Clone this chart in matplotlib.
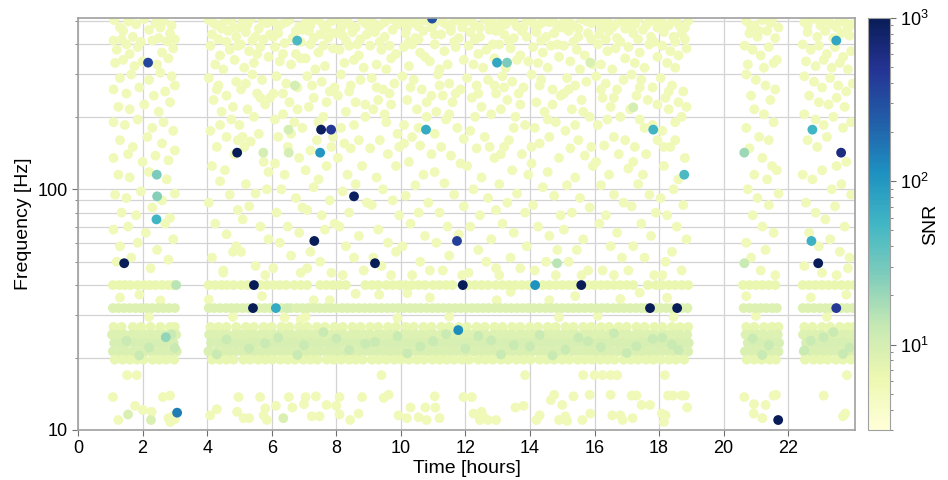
import numpy as np
import matplotlib
matplotlib.use("Agg")
import matplotlib.pyplot as plt
from matplotlib.colors import LogNorm
from matplotlib.ticker import LogLocator, NullFormatter, FixedLocator, FixedFormatter

plt.rcParams['font.family'] = ['Liberation Sans', 'DejaVu Sans']
plt.rcParams['mathtext.fontset'] = 'custom'
plt.rcParams['mathtext.rm'] = 'Liberation Sans'
plt.rcParams['mathtext.it'] = 'Liberation Sans:italic'

# loud triggers: time [h], frequency [Hz], SNR
loud_t = [2.17, 6.79, 4.93, 2.44, 2.45, 2.43, 1.43, 3.04, 2.72, 3.07, 5.45, 5.42, 6.13, 6.47,
          7.32, 7.53, 7.84, 7.50, 8.55, 10.78, 12.98, 13.29, 15.87, 11.74, 10.97, 9.20, 11.92,
          14.16, 15.59, 14.84, 11.78, 23.49, 17.20, 17.82, 18.78, 20.64, 22.75, 23.64, 22.72,
          22.93, 20.64, 17.72, 18.56, 23.49, 21.69, 6.52, 5.74, 6.53, 6.72, 1.55, 2.26, 6.36]
loud_f = [336, 415, 142, 115, 93.5, 75, 49.3, 40, 24.3, 11.8, 40, 32.1, 32.1, 32.1,
          61, 177, 177, 142, 93.5, 177, 336, 336, 336, 61, 512, 49.3, 40,
          40, 40, 49.3, 26, 415, 219, 177, 115, 142, 177, 142, 61,
          49.3, 49.3, 32.1, 32.1, 32.1, 11.0, 177, 142, 142, 270, 11.6, 11.0, 11.2]
loud_snr = [350, 50, 1000, 28, 25, 55, 1000, 15, 22, 150, 1000, 1000, 70, 10,
            1000, 900, 450, 100, 900, 70, 75, 28, 9, 400, 300, 1000, 1000,
            110, 1000, 15, 120, 75, 10, 55, 50, 20, 55, 600, 60,
            1000, 12, 1000, 1000, 450, 1000, 10, 10, 10, 10, 9, 9, 9]

# quiet triggers above 40 Hz, (time, freq) pairs
upper_a = [1.12,505, 1.3,470, 1.55,498, 1.8,485, 2.05,510, 2.4,490, 2.65,500, 2.9,480,
           1.1,415, 1.35,420, 1.5,400, 1.7,430, 1.95,410, 2.3,415, 2.5,425, 2.75,412, 3.0,420,
           1.2,380, 1.6,365, 1.85,390, 2.6,370, 2.95,385, 1.15,335, 1.4,345, 1.75,325, 2.0,340,
           2.45,330, 2.8,350, 1.3,290, 1.65,300, 2.2,285, 2.55,305, 2.9,295, 1.1,260, 1.5,250,
           1.9,265, 2.35,245, 2.7,255, 3.0,270, 1.25,220, 1.6,215, 2.05,225, 2.5,210, 2.85,230,
           1.1,190, 1.45,185, 1.85,195, 2.3,180, 2.65,190, 2.95,175, 1.3,160, 1.7,150, 2.15,165,
           2.6,155, 3.0,145, 1.1,135, 1.55,140, 2.0,130, 2.4,138, 2.8,132, 1.25,115, 1.6,112,
           2.2,118, 2.75,110, 1.15,95, 1.5,92, 1.95,98, 2.6,90, 3.0,96, 1.35,80, 1.8,78, 2.3,84,
           2.85,76, 1.1,68, 1.55,70, 2.1,66, 2.7,72, 1.3,58, 1.85,60, 2.45,56, 2.95,62,
           1.2,50, 1.65,52, 2.25,47, 2.8,51, 1.4,455, 2.2,460, 2.85,445, 1.6,505, 2.55,470]
upper_b = [4.05,505, 4.3,480, 4.55,500, 4.8,470, 4.15,440, 4.65,455, 4.9,430, 4.1,395, 4.4,360,
           4.7,380, 4.25,330, 4.85,345, 4.5,315, 4.05,290, 4.35,270, 4.6,245, 4.9,280, 4.2,235,
           4.45,210, 4.75,195, 4.1,175, 4.6,165, 4.3,150, 4.85,140, 4.15,125, 4.55,120, 4.4,108,
           4.7,95, 4.05,88, 4.95,82, 4.25,72, 4.6,65, 4.9,58, 4.15,52, 4.5,46, 4.8,55,
           5.1,495, 5.35,510, 5.6,465, 5.85,490, 5.2,450, 5.5,430, 5.75,420, 5.05,400, 5.3,375,
           5.65,390, 5.9,355, 5.45,335, 5.15,320, 5.4,300, 5.7,285, 5.05,260, 5.55,250, 5.95,240,
           5.25,215, 5.8,225, 5.0,185, 5.6,170, 5.35,158, 5.75,130, 5.15,150, 5.9,118, 5.2,105,
           5.5,96, 5.85,100, 5.3,85, 5.1,75, 5.65,70, 5.9,62, 5.05,55, 5.5,48, 5.8,44,
           6.05,500, 6.3,485, 6.55,505, 6.85,475, 6.2,445, 6.65,425, 6.95,460, 6.1,390, 6.4,405,
           6.75,365, 6.25,340, 6.6,330, 6.9,350, 6.15,295, 6.45,275, 6.8,265, 6.05,250, 6.55,230,
           6.35,205, 6.7,190, 6.95,180, 6.2,165, 6.5,150, 6.85,135, 6.1,128, 6.4,115, 6.3,100,
           6.75,92, 6.95,84, 6.15,80, 6.5,70, 6.85,66, 6.25,60, 6.6,53, 6.05,47, 6.9,45,
           7.05,490, 7.3,510, 7.6,480, 7.85,500, 7.15,455, 7.5,440, 7.75,425, 7.2,400, 7.45,370,
           7.9,385, 7.05,350, 7.65,325, 7.35,315, 7.1,295, 7.55,280, 7.8,255, 7.3,240, 7.95,265,
           7.15,220, 7.6,200, 7.4,160, 7.9,165, 7.2,145, 7.7,125, 7.05,120, 7.45,110, 7.3,102,
           7.8,90, 7.1,82, 7.55,78, 7.65,68, 7.95,72, 7.2,55, 7.5,50, 7.85,45, 7.1,47,
           8.05,505, 8.35,495, 8.6,470, 8.9,490, 8.2,435, 8.5,450, 8.75,420, 8.1,380, 8.4,395,
           8.7,360, 8.25,335, 8.85,320, 8.55,345, 8.15,300, 8.45,270, 8.75,285, 8.05,245, 8.6,230,
           8.3,210, 8.9,200, 8.15,180, 8.7,160, 8.45,148, 8.05,135, 8.8,125, 8.35,115, 8.6,105,
           8.2,98, 8.95,88, 8.4,80, 8.1,70, 8.7,64, 8.3,58, 8.55,52, 8.85,46, 8.2,44,
           9.1,500, 9.35,480, 9.6,510, 9.9,485, 9.2,450, 9.5,430, 9.75,460, 9.05,395, 9.4,380,
           9.7,350, 9.25,330, 9.85,365, 9.55,315, 9.1,290, 9.45,260, 9.8,275, 9.3,235, 9.65,250,
           9.15,215, 9.55,190, 9.9,170, 9.35,160, 9.05,148, 9.6,140, 9.85,125, 9.25,112, 9.45,100,
           9.75,90, 9.1,86, 9.95,78, 9.3,68, 9.6,60, 9.85,55, 9.4,48, 9.7,44, 9.15,52,
           10.05,495, 10.3,510, 10.55,475, 10.85,500, 10.15,445, 10.45,425, 10.7,455, 10.1,390,
           10.35,400, 10.6,370, 10.9,340, 10.25,325, 10.75,355, 10.05,295, 10.4,285, 10.65,260,
           10.95,245, 10.2,235, 10.5,215, 10.8,200, 10.1,185, 10.35,165, 10.6,152, 10.95,140,
           10.25,130, 10.7,115, 10.45,104, 10.15,94, 10.85,88, 10.55,80, 10.3,72, 10.75,64,
           10.05,58, 10.6,50, 10.9,46, 10.35,44]
upper_c = [11.1,505, 11.4,485, 11.65,500, 11.9,470, 11.25,440, 11.55,455, 11.8,425, 11.05,400,
           11.35,375, 11.7,390, 11.95,345, 11.45,330, 11.2,315, 11.15,300, 11.5,275, 11.85,260,
           11.3,245, 11.6,230, 11.1,210, 11.4,195, 11.75,180, 11.95,162, 11.25,150, 11.55,138,
           11.85,128, 11.05,118, 11.35,106, 11.65,95, 11.95,85, 11.2,80, 11.45,70, 11.8,65,
           11.1,60, 11.5,53, 11.3,46, 11.9,44,
           12.05,500, 12.3,480, 12.6,510, 12.85,490, 12.15,450, 12.45,430, 12.75,460, 12.1,395,
           12.4,365, 12.65,380, 12.9,350, 12.25,330, 12.55,320, 12.05,290, 12.35,270, 12.7,285,
           12.95,250, 12.2,240, 12.5,220, 12.8,205, 12.15,175, 12.6,165, 12.35,148, 12.9,135,
           12.05,125, 12.5,112, 12.25,100, 12.7,92, 12.95,82, 12.45,78, 12.15,70, 12.8,62,
           12.4,56, 12.65,50, 12.1,45, 12.95,47,
           13.1,495, 13.35,505, 13.6,475, 13.9,500, 13.2,440, 13.5,425, 13.75,455, 13.05,400,
           13.4,385, 13.7,360, 13.95,340, 13.25,320, 13.6,345, 13.15,295, 13.45,280, 13.8,265,
           13.3,235, 13.65,250, 13.1,215, 13.55,200, 13.85,185, 13.35,160, 13.2,150, 13.75,140,
           13.45,120, 13.95,115, 13.05,105, 13.6,96, 13.3,88, 13.85,80, 13.15,72, 13.5,66,
           13.9,58, 13.4,52, 13.7,47, 13.05,44,
           14.05,505, 14.3,485, 14.6,495, 14.85,470, 14.2,450, 14.5,430, 14.75,445, 14.1,390,
           14.4,370, 14.65,395, 14.9,355, 14.25,335, 14.55,320, 14.05,300, 14.35,285, 14.7,260,
           14.95,245, 14.2,230, 14.45,210, 14.8,190, 14.15,180, 14.6,165, 14.3,155, 14.9,135,
           14.05,128, 14.55,118, 14.4,102, 14.75,94, 14.1,86, 14.95,78, 14.25,70, 14.6,64,
           14.85,56, 14.5,50, 14.15,46, 14.8,44,
           15.1,500, 15.35,480, 15.6,510, 15.9,490, 15.2,455, 15.5,430, 15.8,445, 15.05,395,
           15.45,380, 15.7,360, 15.25,340, 15.95,330, 15.55,315, 15.15,290, 15.4,270, 15.75,280,
           15.05,250, 15.6,235, 15.3,215, 15.85,200, 15.1,175, 15.5,160, 15.25,148, 15.7,138,
           15.95,125, 15.4,112, 15.15,104, 15.55,92, 15.85,84, 15.3,80, 15.05,68, 15.65,62,
           15.45,56, 15.2,50, 15.8,46, 15.6,44,
           16.05,505, 16.3,490, 16.55,470, 16.85,500, 16.15,440, 16.45,455, 16.7,425, 16.1,400,
           16.4,375, 16.65,385, 16.95,350, 16.2,330, 16.55,315, 16.05,295, 16.35,275, 16.7,260,
           16.9,285, 16.25,240, 16.5,220, 16.8,200, 16.1,185, 16.6,165, 16.3,152, 16.75,140,
           16.05,130, 16.45,115, 16.2,104, 16.6,95, 16.9,88, 16.35,78, 16.15,72, 16.7,66,
           16.5,58, 16.85,52, 16.25,46, 16.6,44,
           17.1,495, 17.35,510, 17.6,480, 17.85,500, 17.2,445, 17.5,460, 17.75,430, 17.05,390,
           17.4,370, 17.7,400, 17.95,355, 17.25,335, 17.55,320, 17.15,300, 17.45,285, 17.8,265,
           17.3,245, 17.65,235, 17.1,215, 17.4,195, 17.8,185, 17.95,160, 17.25,150, 17.6,140,
           17.05,122, 17.5,115, 17.35,105, 17.7,95, 17.15,85, 17.9,80, 17.45,72, 17.75,64,
           17.2,58, 17.55,52, 17.05,46, 17.85,44,
           18.05,505, 18.3,480, 18.55,495, 18.8,470, 18.15,450, 18.45,430, 18.7,445, 18.1,395,
           18.35,375, 18.6,360, 18.85,385, 18.25,335, 18.5,320, 18.05,290, 18.4,270, 18.75,255,
           18.2,240, 18.6,230, 18.3,215, 18.7,200, 18.1,175, 18.5,160, 18.35,150, 18.8,135,
           18.15,125, 18.6,110, 18.45,100, 18.05,92, 18.75,86, 18.25,78, 18.55,70, 18.85,62,
           18.4,55, 18.2,50, 18.7,46, 18.1,44]
upper_d = [20.7,500, 20.95,480, 21.2,505, 21.45,490, 21.7,470, 20.8,445, 21.05,430, 21.35,455,
           21.6,425, 20.65,395, 20.9,380, 21.15,360, 21.4,390, 21.65,345, 20.75,330, 21.25,320,
           21.55,335, 20.7,300, 21.0,285, 21.3,270, 21.6,260, 20.85,245, 21.45,235, 20.95,215,
           21.25,205, 21.55,190, 20.7,180, 21.1,165, 21.4,160, 20.8,148, 21.2,135, 21.5,125,
           20.95,115, 21.35,110, 21.65,120, 20.75,100, 21.05,92, 21.4,86, 21.7,96, 20.9,78,
           21.2,70, 21.55,66, 20.7,60, 21.3,56, 20.85,52, 21.15,46, 21.6,44,
           22.5,495, 22.75,510, 23.0,480, 23.25,500, 23.5,470, 23.75,495, 24.0,485, 22.6,450,
           22.9,430, 23.15,455, 23.4,425, 23.65,445, 23.9,435, 22.45,400, 22.7,380, 22.95,395,
           23.2,365, 23.45,390, 23.7,355, 23.95,375, 22.55,340, 22.85,325, 23.1,345, 23.35,320,
           23.6,335, 23.85,315, 22.5,295, 22.8,280, 23.05,265, 23.3,290, 23.55,270, 23.8,255,
           24.0,275, 22.65,245, 22.95,230, 23.25,225, 23.5,240, 23.75,220, 22.5,205, 22.85,195,
           23.1,185, 23.4,200, 23.7,180, 23.95,190, 22.6,160, 22.9,150, 23.2,165, 23.5,125,
           23.8,130, 22.45,115, 22.75,110, 23.05,120, 23.35,100, 23.65,105, 23.95,95, 22.55,88,
           22.85,80, 23.15,75, 23.45,85, 23.75,70, 22.65,66, 22.95,58, 23.3,62, 23.6,55,
           23.9,52, 22.5,48, 23.05,45, 23.5,44, 23.85,47, 20.85,470, 21.1,455, 21.5,505,
           22.6,480, 22.95,505, 23.35,485, 23.6,505, 23.85,465]
# extra quiet triggers where the top of the plane is crowded
upper_e = [4.2,490, 4.45,465, 4.75,505, 4.6,410, 4.35,420, 4.95,395, 5.0,470, 5.25,485, 5.7,505,
           5.4,415, 5.95,440, 5.55,365, 6.2,470, 6.45,495, 6.75,455, 6.9,410, 6.35,365, 6.05,430,
           7.2,480, 7.45,505, 7.7,465, 7.3,425, 7.95,445, 7.6,395, 8.15,470, 8.45,480, 8.8,505,
           8.3,415, 8.65,400, 8.95,440, 9.0,480, 9.25,470, 9.5,495, 9.8,505, 9.35,410, 9.65,395,
           10.2,470, 10.45,490, 10.7,505, 10.95,470, 10.55,420, 10.25,410, 11.0,480, 11.3,495,
           11.55,470, 11.8,505, 11.05,440, 11.65,410, 12.2,500, 12.45,470, 12.75,485, 12.95,455,
           12.3,420, 12.85,400, 13.05,470, 13.25,485, 13.5,500, 13.8,470, 13.35,415, 13.9,430,
           14.15,480, 14.4,495, 14.7,510, 14.95,485, 14.35,415, 14.85,400, 15.0,470, 15.25,490,
           15.5,465, 15.75,500, 15.35,410, 15.9,420, 16.2,470, 16.4,500, 16.65,485, 16.95,465,
           16.35,420, 16.8,410, 17.0,470, 17.25,485, 17.7,500, 17.95,470, 17.35,420, 17.85,410,
           18.2,480, 18.4,500, 18.65,475, 18.9,500, 18.5,410, 18.8,420]
upper_f = [4.3,260, 4.8,220, 4.4,185, 4.95,160, 5.2,275, 5.65,240, 5.45,200, 5.1,165,
           6.35,250, 6.8,215, 6.1,195, 6.6,170, 7.25,270, 7.7,230, 7.45,190, 7.85,150,
           8.4,255, 8.9,225, 8.55,185, 8.25,155, 9.25,265, 9.7,225, 9.5,205, 9.95,150,
           10.3,265, 10.8,230, 10.55,180, 10.1,155, 11.2,270, 11.7,250, 11.5,205, 11.05,170,
           12.4,250, 12.9,270, 12.3,200, 12.75,150, 13.2,265, 13.7,225, 13.5,180, 13.1,140,
           14.3,270, 14.7,225, 14.55,195, 14.05,150, 15.2,260, 15.65,210, 15.4,185, 15.9,150,
           16.2,260, 16.6,240, 16.4,195, 16.95,160, 17.4,265, 17.95,225, 17.55,180, 17.2,130,
           18.3,255, 18.85,220, 18.5,190, 18.15,150]

# quiet triggers between 27 and 40 Hz (off the lines)
mid_pts = [1.3,35.5, 1.9,36.5, 2.55,34.5, 2.2,29.5, 4.05,34.8, 4.5,45, 4.8,29.5, 5.7,36,
           6.4,29.3, 6.9,28.8, 7.05,29.5, 7.3,34.6, 7.8,34.6, 8.6,36.8, 9.33,36.5, 9.9,29.2,
           10.2,37, 10.9,35.5, 11.5,29.6, 12.97,34.6, 13.4,37.5, 14.6,34.6, 14.9,29.4, 15.4,36,
           16.1,29.8, 16.8,35, 17.4,37.2, 18.25,35.4, 18.45,29.5, 20.7,36, 21.0,29.8, 22.7,35.5,
           23.2,29.5, 23.8,36.5]

# quiet triggers below the band
low_pts = [1.08,13.7, 1.25,11.0, 1.77,12.6, 2.01,12.1, 2.28,11.9, 2.63,13.7, 2.85,13.9, 2.8,11.2,
           2.9,11.0, 2.97,11.5, 2.86,10.8, 3.0,11.1, 1.52,16.9, 1.82,16.9, 4.09,11.5, 4.3,12.2,
           4.97,13.7, 4.93,11.9, 5.13,11.2, 5.3,11.2, 5.64,13.7, 5.8,12.3, 5.75,11.5, 5.85,11.0,
           6.13,12.6, 6.53,13.7, 6.64,12.4, 7.0,12.8, 7.05,13.7, 7.24,11.4, 7.37,13.8, 7.48,11.4,
           7.7,12.7, 8.0,12.6, 8.1,13.7, 8.1,11.6, 8.43,11.0, 8.69,11.7, 8.8,13.7, 9.4,16.9,
           9.47,13.6, 9.62,14.0, 9.93,11.5, 10.19,11.2, 10.3,12.4, 10.55,11.3, 10.76,12.4, 10.8,11.0,
           11.05,13.8, 11.07,12.4, 11.2,11.2, 11.94,13.7, 12.2,13.7, 12.25,11.7, 12.5,11.9, 12.55,11.4,
           12.45,11.0, 12.7,11.0, 12.95,11.0, 13.55,12.4, 13.8,12.6, 13.85,16.9, 14.2,11.0, 14.3,11.5,
           14.65,13.3, 14.75,14.0, 14.9,11.0, 15.0,12.7, 15.1,11.4, 15.15,10.9, 15.35,13.8, 15.62,11.0,
           15.65,16.9, 15.85,14.0, 15.87,11.7, 16.0,16.9, 16.25,16.9, 16.5,16.9, 16.5,14.0, 16.55,11.5,
           16.7,16.9, 16.8,11.5, 16.87,11.0, 17.15,13.9, 17.3,13.9, 17.46,12.7, 17.72,12.7, 17.18,11.2,
           18.18,16.9, 18.28,13.9, 18.43,13.9, 18.7,13.9, 18.8,13.9, 18.87,12.4, 18.08,11.7, 18.2,11.5,
           18.15,10.8, 20.64,13.7, 20.94,12.8, 20.93,11.7, 21.3,12.7, 21.2,11.2, 21.55,13.9, 21.62,14.0,
           23.1,13.9, 23.77,11.7, 23.82,16.9, 23.7,11.4]

# times of the 40 Hz and 32 Hz lines
line40_t = [1.08, 1.28, 1.45, 1.62, 1.85, 2.05, 2.22, 2.4, 2.6, 2.8, 2.95,
            4.05, 4.25, 4.45, 4.62, 4.82, 5.05, 5.25, 5.65, 5.85, 6.05, 6.25, 6.45, 6.7, 6.9, 7.1,
            7.5, 7.7, 7.9, 8.1, 8.3, 8.9, 9.1, 9.3, 9.55, 9.75, 9.95, 10.15, 10.35, 10.55, 10.75,
            11.0, 11.2, 11.4, 11.6, 12.1, 12.3, 12.5, 12.7, 12.95, 13.15, 13.35, 13.55, 13.75,
            13.95, 14.4, 14.6, 14.8, 15.0, 15.2, 15.4, 15.8, 16.0, 16.2, 16.4, 16.6, 16.8, 17.0,
            17.2, 17.65, 17.9, 18.1, 18.3, 18.5, 18.7, 18.9,
            20.6, 20.8, 21.0, 21.2, 21.4, 21.6, 22.45, 22.65, 22.85, 23.05, 23.25, 23.45, 23.65,
            23.85, 24.05]
line32_t = [1.08, 1.25, 1.42, 1.6, 1.78, 1.95, 2.12, 2.3, 2.48, 2.65, 2.82, 3.0,
            4.05, 4.22, 4.4, 4.58, 4.75, 4.92, 5.1, 5.28, 5.6, 5.78, 5.95, 6.3, 6.6, 6.78, 6.95,
            7.12, 7.3, 7.48, 7.65, 7.82, 8.0, 8.18, 8.35, 8.52, 8.7, 8.88, 9.05, 9.22, 9.4, 9.58,
            9.75, 9.92, 10.1, 10.28, 10.45, 10.62, 10.8, 10.98, 11.15, 11.32, 11.5, 11.68, 11.85,
            12.02, 12.2, 12.38, 12.55, 12.72, 12.9, 13.08, 13.25, 13.42, 13.6, 13.78, 13.95, 14.12,
            14.3, 14.48, 14.65, 14.82, 15.0, 15.18, 15.35, 15.52, 15.7, 15.88, 16.05, 16.22, 16.4,
            16.58, 16.75, 16.92, 17.1, 17.28, 17.45, 17.6, 17.9, 18.05, 18.22, 18.38, 18.7, 18.88,
            20.62, 20.8, 20.98, 21.15, 21.32, 21.5, 21.65,
            22.45, 22.62, 22.8, 22.98, 23.15, 23.32, 23.65, 23.82, 24.0]

# the dense 19-27 Hz band, one time list per frequency row
band_f = [26.8, 24.9, 23.0, 21.2, 19.6]
band_snr = [7.0, 8.5, 9.5, 9.0, 7.0]
band_t = [
    [1.1, 1.35, 1.7, 1.95, 2.25, 2.55, 2.85, 3.0, 4.1, 4.35, 4.6, 4.9, 5.2, 5.45, 5.75, 6.0,
     6.3, 6.55, 6.85, 7.1, 7.4, 7.65, 7.95, 8.2, 8.5, 8.75, 9.05, 9.3, 9.6, 9.85, 10.15, 10.4,
     10.7, 10.95, 11.25, 11.5, 11.8, 12.05, 12.35, 12.6, 12.9, 13.15, 13.45, 13.7, 14.0, 14.25,
     14.55, 14.8, 15.1, 15.35, 15.65, 15.9, 16.2, 16.45, 16.75, 17.0, 17.3, 17.55, 17.85, 18.1,
     18.4, 18.65, 18.9, 20.7, 20.95, 21.25, 21.5, 21.7, 22.5, 22.75, 23.05, 23.3, 23.6, 23.85, 24.05],
    [1.05, 1.22, 1.43, 1.66, 1.84, 2.07, 2.26, 2.44, 2.67, 2.86, 3.04, 4.06, 4.24, 4.47, 4.63,
     4.86, 5.04, 5.27, 5.43, 5.66, 5.84, 6.07, 6.23, 6.46, 6.64, 6.87, 7.03, 7.26, 7.44, 7.67,
     7.83, 8.06, 8.24, 8.47, 8.63, 8.86, 9.04, 9.27, 9.43, 9.66, 9.84, 10.07, 10.23, 10.46,
     10.64, 10.87, 11.03, 11.26, 11.44, 11.67, 11.83, 12.06, 12.24, 12.47, 12.63, 12.86, 13.04,
     13.27, 13.43, 13.66, 13.84, 14.07, 14.23, 14.46, 14.64, 14.87, 15.03, 15.26, 15.44, 15.67,
     15.83, 16.06, 16.24, 16.47, 16.63, 16.86, 17.04, 17.27, 17.43, 17.66, 17.84, 18.07, 18.23,
     18.46, 18.64, 18.87, 20.68, 20.86, 21.07, 21.24, 21.46, 21.68, 22.46, 22.64, 22.87, 23.03,
     23.26, 23.44, 23.67, 23.83, 24.04],
    [1.12, 1.33, 1.52, 1.74, 1.95, 2.14, 2.35, 2.55, 2.76, 2.96, 4.12, 4.35, 4.54, 4.75, 4.95,
     5.14, 5.36, 5.55, 5.74, 5.96, 6.15, 6.35, 6.56, 6.74, 6.95, 7.16, 7.35, 7.54, 7.76, 7.95,
     8.14, 8.36, 8.55, 8.75, 8.96, 9.15, 9.34, 9.56, 9.75, 9.94, 10.16, 10.35, 10.54, 10.76,
     10.95, 11.14, 11.36, 11.55, 11.74, 11.96, 12.15, 12.34, 12.56, 12.75, 12.94, 13.16, 13.35,
     13.55, 13.76, 13.95, 14.14, 14.36, 14.55, 14.74, 14.96, 15.15, 15.34, 15.56, 15.75, 15.94,
     16.16, 16.35, 16.54, 16.76, 16.95, 17.14, 17.36, 17.55, 17.74, 17.96, 18.15, 18.34, 18.56,
     18.75, 18.92, 20.75, 20.96, 21.15, 21.36, 21.55, 21.72, 22.55, 22.75, 22.96, 23.15, 23.35,
     23.56, 23.75, 23.96],
    [1.08, 1.27, 1.47, 1.69, 1.88, 2.09, 2.28, 2.49, 2.68, 2.9, 3.06, 4.04, 4.28, 4.49, 4.68,
     4.88, 5.09, 5.29, 5.48, 5.69, 5.88, 6.08, 6.29, 6.48, 6.69, 6.88, 7.08, 7.29, 7.48, 7.69,
     7.88, 8.08, 8.29, 8.48, 8.69, 8.88, 9.08, 9.29, 9.48, 9.69, 9.88, 10.08, 10.29, 10.48,
     10.69, 10.88, 11.08, 11.29, 11.48, 11.69, 11.88, 12.08, 12.29, 12.48, 12.69, 12.88, 13.08,
     13.29, 13.48, 13.69, 13.88, 14.08, 14.29, 14.48, 14.69, 14.88, 15.08, 15.29, 15.48, 15.69,
     15.88, 16.08, 16.29, 16.48, 16.69, 16.88, 17.08, 17.29, 17.48, 17.69, 17.88, 18.08, 18.29,
     18.48, 18.69, 18.9, 20.66, 20.88, 21.09, 21.29, 21.48, 21.7, 22.48, 22.69, 22.88, 23.09,
     23.29, 23.48, 23.69, 23.88, 24.06],
    [1.14, 1.38, 1.6, 1.82, 2.03, 2.31, 2.52, 2.73, 2.98, 4.15, 4.38, 4.6, 4.82, 5.12, 5.33,
     5.58, 5.8, 6.02, 6.27, 6.5, 6.72, 6.98, 7.2, 7.42, 7.7, 7.92, 8.15, 8.4, 8.6, 8.82, 9.1,
     9.32, 9.55, 9.8, 10.02, 10.25, 10.5, 10.72, 10.98, 11.2, 11.42, 11.65, 11.9, 12.12, 12.4,
     12.62, 12.85, 13.1, 13.32, 13.58, 13.8, 14.02, 14.3, 14.52, 14.75, 15.0, 15.22, 15.48,
     15.7, 15.92, 16.18, 16.4, 16.62, 16.9, 17.12, 17.35, 17.6, 17.82, 18.05, 18.3, 18.52,
     18.78, 20.72, 20.95, 21.18, 21.42, 21.62, 22.52, 22.78, 23.0, 23.22, 23.48, 23.7, 23.95],
]
# slightly louder dots inside the band
band_green = [1.5,23.5, 2.2,22, 2.9,25, 4.6,23.8, 5.3,21.8, 6.2,24.2, 7.0,22.5, 7.6,25.5,
              8.4,21.5, 9.2,23.2, 9.9,24.5, 10.6,22.2, 11.4,25, 12.0,21.8, 12.8,23.6, 13.5,22.5,
              14.3,24.8, 15.1,21.6, 15.8,23.4, 16.6,25.2, 17.3,22.3, 18.1,24.2, 18.6,21.5, 20.9,24,
              21.4,22.5, 22.7,23.5, 23.4,25.5, 23.9,22, 1.9,20.4, 3.0,21.9, 4.3,20.6, 5.8,22.9,
              6.8,20.5, 8.0,24.0, 8.9,22.8, 10.2,20.8, 11.0,23.4, 12.4,24.6, 13.1,20.6, 14.0,22.2,
              14.7,20.4, 15.5,24.2, 16.2,22.1, 17.0,20.9, 17.8,23.9, 18.4,22.6, 21.2,20.5, 22.5,21.4,
              23.1,24.3, 23.7,20.7]

norm = LogNorm(vmin=3, vmax=1000)
cmap = 'YlGnBu'
size = 50

fig = plt.figure(figsize=(9.48, 4.8), dpi=100)
ax = fig.add_axes([0.0823, 0.1042, 0.8196, 0.8583])
cax = fig.add_axes([0.9156, 0.1042, 0.0232, 0.8583])


def draw(t, f, snr):
    t = np.asarray(t, float)
    f = np.asarray(f, float)
    c = np.broadcast_to(np.asarray(snr, float), t.shape)
    return ax.scatter(t, f, c=c, cmap=cmap, norm=norm, s=size, edgecolors='none')


for pts in (upper_a, upper_b, upper_c, upper_d, upper_e, upper_f, mid_pts, low_pts):
    p = np.reshape(pts, (-1, 2))
    draw(p[:, 0], p[:, 1], 5.5)
draw(line40_t, np.full(len(line40_t), 40.0), 6.5)
for bt, bf, bs in zip(band_t, band_f, band_snr):
    draw(bt, np.full(len(bt), bf), bs)
bg = np.reshape(band_green, (-1, 2))
draw(bg[:, 0], bg[:, 1], 12)
draw(line32_t, np.full(len(line32_t), 32.1), 8.5)

order = np.argsort(loud_snr)
sc = draw(np.array(loud_t)[order], np.array(loud_f)[order], np.array(loud_snr)[order])

ax.set_yscale('log')
ax.set_xlim(0, 24.07)
ax.set_ylim(10, 515)
ax.set_xticks(range(0, 23, 2))
ax.yaxis.set_major_locator(FixedLocator([10, 100]))
ax.yaxis.set_major_formatter(FixedFormatter(['10', '100']))
ax.yaxis.set_minor_locator(LogLocator(base=10, subs=np.arange(2, 10)))
ax.yaxis.set_minor_formatter(NullFormatter())
ax.set_axisbelow(True)
ax.grid(True, which='major', color='#d3d3d3', lw=0.9)
ax.grid(True, which='minor', axis='y', color='#d3d3d3', lw=0.9)
for s in ax.spines.values():
    s.set_color('#a0a0a0')
    s.set_linewidth(1.2)
ax.tick_params(which='both', direction='out', colors='#707070', labelcolor='black',
               labelsize=13)
ax.tick_params(which='major', length=4)
ax.tick_params(which='minor', length=2.5)
ax.set_xlabel('Time [hours]', fontsize=14, labelpad=2)
ax.set_ylabel('Frequency [Hz]', fontsize=14, labelpad=4)

cb = fig.colorbar(sc, cax=cax)
cb.outline.set_edgecolor('#a0a0a0')
cb.ax.tick_params(which='both', direction='out', colors='#707070', labelcolor='black',
                  labelsize=13)
cb.ax.tick_params(which='major', length=4)
cb.ax.tick_params(which='minor', length=2.5)
cb.set_label('SNR', fontsize=14)
cb.ax.yaxis.set_label_coords(2.45, 0.5)

fig.savefig('out.png', dpi=100)
